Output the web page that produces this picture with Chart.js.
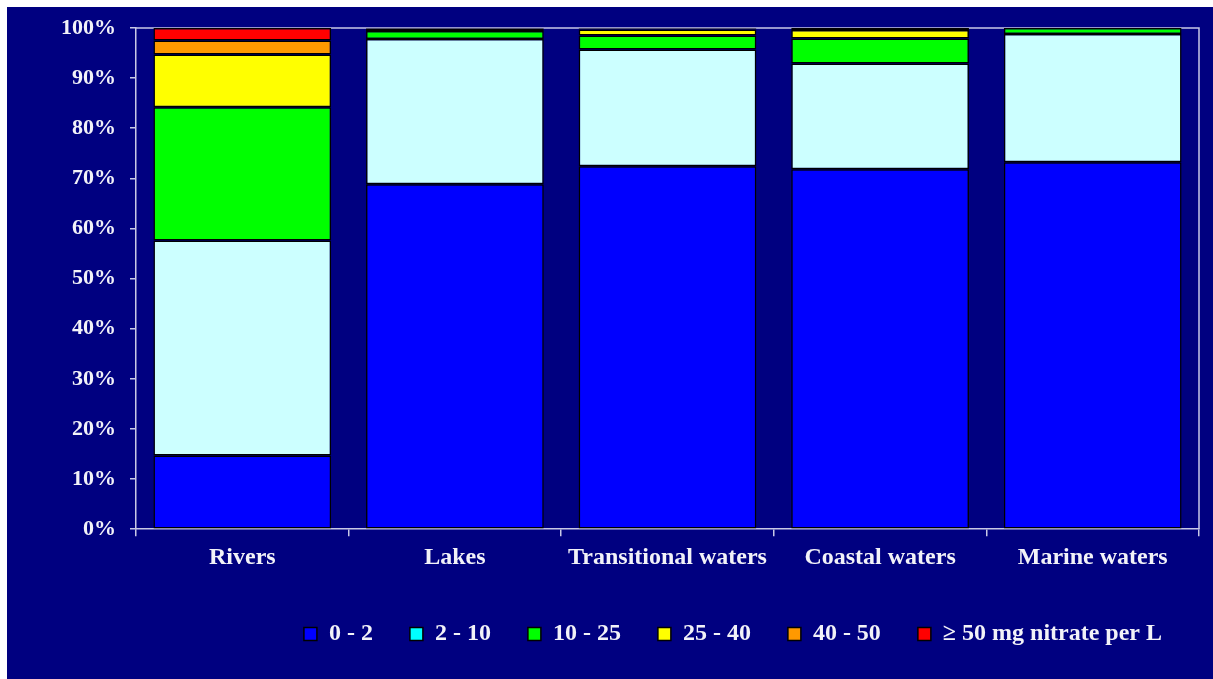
<!DOCTYPE html>
<html>
<head>
<meta charset="utf-8">
<script src="https://cdn.jsdelivr.net/npm/chart.js@4/dist/chart.umd.min.js"></script>
<style>
  html, body { margin: 0; padding: 0; background: #ffffff; }
  #wrap { position: absolute; left: 7px; top: 7px; width: 1206px; height: 672px; background: #000080; }
  canvas { display: block; }
</style>
</head>
<body>
<div id="wrap"><canvas id="c" width="1206" height="672"></canvas></div>
<script>
const categories = ['Rivers', 'Lakes', 'Transitional waters', 'Coastal waters', 'Marine waters'];
const seriesLabels = ['0 - 2', '2 - 10', '10 - 25', '25 - 40', '40 - 50', '\u2265 50 mg nitrate per L'];
const s0_2   = [14.7, 68.8, 72.4, 71.8, 73.2];
const s2_10  = [42.9, 29.0, 23.3, 21.1, 25.6];
const s10_25 = [26.6, 1.6, 2.8, 5.0, 1.2];
const s25_40 = [10.5, 0.4, 1.2, 1.7, 0];
const s40_50 = [2.8, 0.1, 0.2, 0.2, 0];
const s50    = [2.5, 0.1, 0.1, 0.2, 0];
const yTicks = [0, 10, 20, 30, 40, 50, 60, 70, 80, 90, 100];

const barColors = ['#0000FF', '#CCFFFF', '#00FF00', '#FFFF00', '#FF9900', '#FF0000'];
const legendColors = ['#0000FF', '#00FFFF', '#00FF00', '#FFFF00', '#FF9900', '#FF0000'];
const seriesData = [s0_2, s2_10, s10_25, s25_40, s40_50, s50];

const axisColor = '#C8C8E6';
const textColor = '#F2F2F8';
const fontFamily = "'Liberation Serif', 'Times New Roman', serif";

const frame = {
  id: 'frame',
  beforeDatasetsDraw(chart) {
    const a = chart.chartArea, ctx = chart.ctx;
    ctx.save();
    ctx.strokeStyle = axisColor;
    ctx.lineWidth = 1.5;
    ctx.beginPath();
    ctx.moveTo(a.left, a.top);
    ctx.lineTo(a.right, a.top);
    ctx.lineTo(a.right, a.bottom);
    ctx.stroke();
    ctx.restore();
  }
};

new Chart(document.getElementById('c'), {
  type: 'bar',
  data: {
    labels: categories,
    datasets: seriesData.map((d, i) => ({
      label: seriesLabels[i],
      data: d,
      backgroundColor: barColors[i],
      borderColor: '#000000',
      borderWidth: 1.5,
      borderSkipped: false,
      categoryPercentage: 1,
      barPercentage: 0.836
    }))
  },
  options: {
    responsive: false,
    animation: false,
    layout: { padding: { left: 40, right: 14, top: 21, bottom: 23 } },
    plugins: {
      tooltip: { enabled: false },
      legend: {
        position: 'bottom',
        align: 'end',
        labels: {
          color: textColor,
          font: { family: fontFamily, size: 24, weight: 'bold' },
          boxWidth: 13,
          boxHeight: 13,
          padding: 37,
          generateLabels(chart) {
            return chart.data.datasets.map((ds, i) => ({
              text: ds.label,
              fillStyle: legendColors[i],
              strokeStyle: '#000000',
              lineWidth: 1.5,
              fontColor: textColor,
              datasetIndex: i,
              hidden: false
            }));
          }
        }
      }
    },
    scales: {
      x: {
        stacked: true,
        afterFit(scale) { scale.height += 6; },
        grid: { offset: true, drawOnChartArea: false, drawTicks: true, tickLength: 7, color: axisColor, lineWidth: 1.5 },
        border: { color: axisColor, width: 1.5 },
        ticks: { color: textColor, font: { family: fontFamily, size: 24, weight: 'bold' }, padding: 7, maxRotation: 0 }
      },
      y: {
        stacked: true,
        min: 0,
        max: 100,
        afterBuildTicks(scale) { scale.ticks = yTicks.map(v => ({ value: v })); },
        afterFit(scale) { scale.paddingTop = 0; },
        grid: { drawOnChartArea: false, drawTicks: true, tickLength: 6, color: axisColor, lineWidth: 1.5 },
        border: { color: axisColor, width: 1.5 },
        ticks: { color: textColor, font: { family: fontFamily, size: 22, weight: 'bold' }, padding: 14, callback: v => v + '%' }
      }
    }
  },
  plugins: [frame]
});
</script>
</body>
</html>
